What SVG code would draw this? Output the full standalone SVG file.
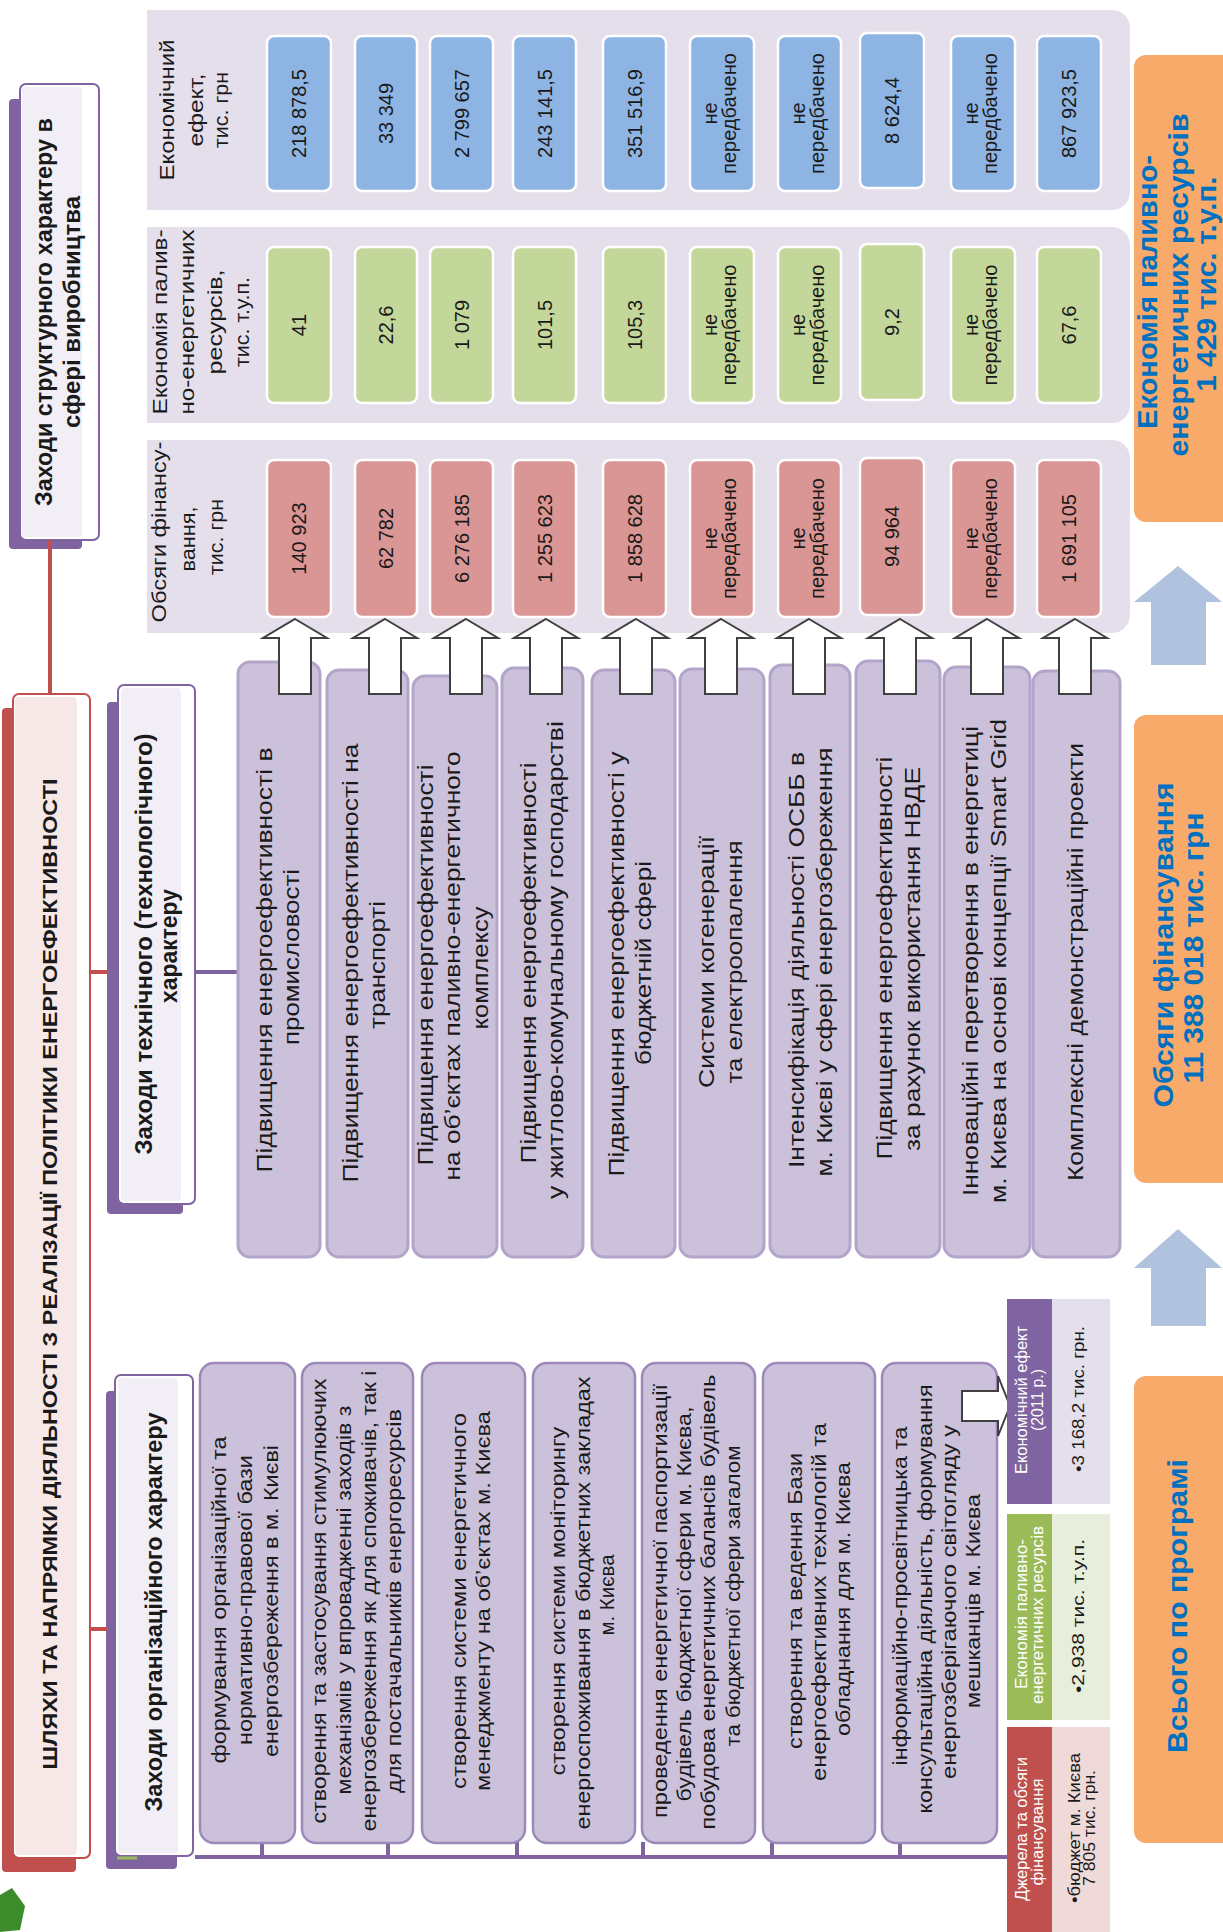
<svg xmlns="http://www.w3.org/2000/svg" xmlns:xlink="http://www.w3.org/1999/xlink" width="1223" height="1932" viewBox="0 0 1223 1932">
<style>
.t{font-family:"Liberation Sans",Arial,sans-serif;text-anchor:middle;fill:#1a1a1a}
.hd{font-size:23px;font-weight:bold}
.ti{font-size:21px;font-weight:bold}
.tc{font-size:22px}
.og{font-size:21px}
.lb{font-size:21px}
.nm{font-size:20px}
.bg{font-size:27px;font-weight:bold;fill:#0070c0}
.mh{font-size:16px;fill:#ffffff}
.mv{font-size:17px}
.panel{fill:#e5dfec}
.cb{fill:#8eb4e3;stroke:#ffffff;stroke-width:2.5}
.cg{fill:#c4d79b;stroke:#ffffff;stroke-width:2.5}
.cr{fill:#da9694;stroke:#ffffff;stroke-width:2.5}
.tb{fill:#ccc1da;stroke:#b3a4c9;stroke-width:3}
.ob{fill:#ccc1da;stroke:#9c88b9;stroke-width:2.5}
.orng{fill:#f8aa6b}
.wa{fill:#ffffff;stroke:#404040;stroke-width:2;stroke-linejoin:miter}
.ba{fill:#b0c2dd}
.pl{stroke:#8064a2;stroke-width:4;fill:none}
.rl{stroke:#c0504d;stroke-width:4;fill:none}
</style>
<defs>
<polygon id="wa" points="0,0 32,19 16,19 16,75 -16,75 -16,19 -32,19"/>
</defs>

<g id="title">
<rect x="2" y="708" width="74" height="1164" rx="4" fill="#c0504d"/>
<rect x="13" y="694" width="77" height="1164" rx="6" fill="#ffffff" stroke="#c0504d" stroke-width="2"/>
<rect x="15" y="697" width="62" height="1158" rx="4" fill="#f6e8e7"/>
<text class="t ti" x="57" y="1274" transform="rotate(-90 57 1274)" textLength="991" lengthAdjust="spacingAndGlyphs">ШЛЯХИ ТА НАПРЯМКИ ДІЯЛЬНОСТІ З РЕАЛІЗАЦІЇ ПОЛІТИКИ ЕНЕРГОЕФЕКТИВНОСТІ</text>
</g>

<g id="structural">
<rect x="9" y="99" width="73" height="450" rx="4" fill="#8064a2"/>
<rect x="20" y="84" width="79" height="456" rx="6" fill="#ffffff" stroke="#8064a2" stroke-width="2"/>
<rect x="22" y="87" width="60" height="450" rx="4" fill="#f1eff5"/>
<text class="t hd" x="52" y="312" transform="rotate(-90 52 312)" textLength="388" lengthAdjust="spacingAndGlyphs">Заходи структурного характеру в</text>
<text class="t hd" x="80" y="312" transform="rotate(-90 80 312)" textLength="232" lengthAdjust="spacingAndGlyphs">сфері виробництва</text>
</g>

<g id="technical">
<rect x="107" y="702" width="76" height="512" rx="4" fill="#8064a2"/>
<rect x="118" y="685" width="77" height="519" rx="6" fill="#ffffff" stroke="#8064a2" stroke-width="2"/>
<rect x="121" y="688" width="60" height="513" rx="4" fill="#f1eff5"/>
<text class="t hd" x="152" y="944" transform="rotate(-90 152 944)" textLength="421" lengthAdjust="spacingAndGlyphs">Заходи технічного (технологічного)</text>
<text class="t hd" x="177" y="946" transform="rotate(-90 177 946)" textLength="114" lengthAdjust="spacingAndGlyphs">характеру</text>
</g>

<g id="organizational">
<rect x="106" y="1391" width="71" height="478" rx="4" fill="#8064a2"/>
<rect x="115" y="1375" width="78" height="481" rx="6" fill="#ffffff" stroke="#8064a2" stroke-width="2"/>
<rect x="118" y="1378" width="60" height="475" rx="4" fill="#f1eff5"/>
<line x1="117" y1="1858" x2="137" y2="1858" stroke="#9bbb59" stroke-width="3"/>
<text class="t hd" x="162" y="1612" transform="rotate(-90 162 1612)" textLength="399" lengthAdjust="spacingAndGlyphs">Заходи організаційного характеру</text>
</g>

<g id="connectors">
<line class="rl" x1="50" y1="540" x2="50" y2="694"/>
<line class="rl" x1="90" y1="972" x2="108" y2="972"/>
<line class="rl" x1="90" y1="1629" x2="107" y2="1629"/>
<line class="pl" x1="195" y1="972" x2="239" y2="972"/>
<line class="pl" x1="195" y1="1857" x2="1007" y2="1857"/>
<line class="pl" x1="262" y1="1842" x2="262" y2="1857"/>
<line class="pl" x1="388" y1="1842" x2="388" y2="1857"/>
<line class="pl" x1="517" y1="1842" x2="517" y2="1857"/>
<line class="pl" x1="643" y1="1842" x2="643" y2="1857"/>
<line class="pl" x1="772" y1="1842" x2="772" y2="1857"/>
<line class="pl" x1="900" y1="1842" x2="900" y2="1857"/>
</g>

<g id="panels">
<path class="panel" d="M147,10 H1112 A18,18 0 0 1 1130,28 V192 A18,18 0 0 1 1112,210 H147 Z"/>
<path class="panel" d="M147,227 H1112 A18,18 0 0 1 1130,245 V405 A18,18 0 0 1 1112,423 H147 Z"/>
<path class="panel" d="M147,440 H1112 A18,18 0 0 1 1130,458 V615 A18,18 0 0 1 1112,633 H147 Z"/>
<text class="t lb" x="174" y="110" transform="rotate(-90 174 110)" textLength="141" lengthAdjust="spacingAndGlyphs">Економічний</text>
<text class="t lb" x="203" y="110" transform="rotate(-90 203 110)" textLength="73" lengthAdjust="spacingAndGlyphs">ефект,</text>
<text class="t lb" x="228" y="110" transform="rotate(-90 228 110)" textLength="76" lengthAdjust="spacingAndGlyphs">тис. грн</text>
<text class="t lb" x="167" y="322" transform="rotate(-90 167 322)" textLength="185" lengthAdjust="spacingAndGlyphs">Економія палив-</text>
<text class="t lb" x="194" y="322" transform="rotate(-90 194 322)" textLength="185" lengthAdjust="spacingAndGlyphs">но-енергетичних</text>
<text class="t lb" x="222" y="322" transform="rotate(-90 222 322)" textLength="105" lengthAdjust="spacingAndGlyphs">ресурсів,</text>
<text class="t lb" x="249" y="322" transform="rotate(-90 249 322)" textLength="90" lengthAdjust="spacingAndGlyphs">тис. т.у.п.</text>
<text class="t lb" x="166" y="532" transform="rotate(-90 166 532)" textLength="181" lengthAdjust="spacingAndGlyphs">Обсяги фінансу-</text>
<text class="t lb" x="195" y="539" transform="rotate(-90 195 539)" textLength="65" lengthAdjust="spacingAndGlyphs">вання,</text>
<text class="t lb" x="223" y="537" transform="rotate(-90 223 537)" textLength="76" lengthAdjust="spacingAndGlyphs">тис. грн</text>
</g>

<g id="cells-effect">
<rect class="cb" x="267" y="36" width="64" height="155" rx="7"/>
<rect class="cb" x="355" y="36" width="62" height="155" rx="7"/>
<rect class="cb" x="430" y="36" width="63" height="155" rx="7"/>
<rect class="cb" x="513" y="36" width="63" height="155" rx="7"/>
<rect class="cb" x="603" y="36" width="63" height="155" rx="7"/>
<rect class="cb" x="690" y="36" width="64" height="155" rx="7"/>
<rect class="cb" x="778" y="36" width="63" height="155" rx="7"/>
<rect class="cb" x="860" y="33" width="64" height="155" rx="7"/>
<rect class="cb" x="951" y="36" width="64" height="155" rx="7"/>
<rect class="cb" x="1037" y="36" width="64" height="155" rx="7"/>
<text class="t nm" x="306" y="113.5" transform="rotate(-90 306 113.5)">218 878,5</text>
<text class="t nm" x="393" y="113.5" transform="rotate(-90 393 113.5)">33 349</text>
<text class="t nm" x="468.5" y="113.5" transform="rotate(-90 468.5 113.5)">2 799 657</text>
<text class="t nm" x="551.5" y="113.5" transform="rotate(-90 551.5 113.5)">243 141,5</text>
<text class="t nm" x="641.5" y="113.5" transform="rotate(-90 641.5 113.5)">351 516,9</text>
<text class="t nm" x="717" y="113.5" transform="rotate(-90 717 113.5)">не</text>
<text class="t nm" x="736" y="113.5" transform="rotate(-90 736 113.5)">передбачено</text>
<text class="t nm" x="804.5" y="113.5" transform="rotate(-90 804.5 113.5)">не</text>
<text class="t nm" x="823.5" y="113.5" transform="rotate(-90 823.5 113.5)">передбачено</text>
<text class="t nm" x="899" y="110.5" transform="rotate(-90 899 110.5)">8 624,4</text>
<text class="t nm" x="978" y="113.5" transform="rotate(-90 978 113.5)">не</text>
<text class="t nm" x="997" y="113.5" transform="rotate(-90 997 113.5)">передбачено</text>
<text class="t nm" x="1076" y="113.5" transform="rotate(-90 1076 113.5)">867 923,5</text>
</g>

<g id="cells-savings">
<rect class="cg" x="267" y="247" width="64" height="156" rx="7"/>
<rect class="cg" x="355" y="247" width="62" height="156" rx="7"/>
<rect class="cg" x="430" y="247" width="63" height="156" rx="7"/>
<rect class="cg" x="513" y="247" width="63" height="156" rx="7"/>
<rect class="cg" x="603" y="247" width="63" height="156" rx="7"/>
<rect class="cg" x="690" y="247" width="64" height="156" rx="7"/>
<rect class="cg" x="778" y="247" width="63" height="156" rx="7"/>
<rect class="cg" x="860" y="244" width="64" height="156" rx="7"/>
<rect class="cg" x="951" y="247" width="64" height="156" rx="7"/>
<rect class="cg" x="1037" y="247" width="64" height="156" rx="7"/>
<text class="t nm" x="306" y="325" transform="rotate(-90 306 325)">41</text>
<text class="t nm" x="393" y="325" transform="rotate(-90 393 325)">22,6</text>
<text class="t nm" x="468.5" y="325" transform="rotate(-90 468.5 325)">1 079</text>
<text class="t nm" x="551.5" y="325" transform="rotate(-90 551.5 325)">101,5</text>
<text class="t nm" x="641.5" y="325" transform="rotate(-90 641.5 325)">105,3</text>
<text class="t nm" x="717" y="325" transform="rotate(-90 717 325)">не</text>
<text class="t nm" x="736" y="325" transform="rotate(-90 736 325)">передбачено</text>
<text class="t nm" x="804.5" y="325" transform="rotate(-90 804.5 325)">не</text>
<text class="t nm" x="823.5" y="325" transform="rotate(-90 823.5 325)">передбачено</text>
<text class="t nm" x="899" y="322" transform="rotate(-90 899 322)">9,2</text>
<text class="t nm" x="978" y="325" transform="rotate(-90 978 325)">не</text>
<text class="t nm" x="997" y="325" transform="rotate(-90 997 325)">передбачено</text>
<text class="t nm" x="1076" y="325" transform="rotate(-90 1076 325)">67,6</text>
</g>

<g id="cells-funding">
<rect class="cr" x="267" y="460" width="64" height="157" rx="7"/>
<rect class="cr" x="355" y="460" width="62" height="157" rx="7"/>
<rect class="cr" x="430" y="460" width="63" height="157" rx="7"/>
<rect class="cr" x="513" y="460" width="63" height="157" rx="7"/>
<rect class="cr" x="603" y="460" width="63" height="157" rx="7"/>
<rect class="cr" x="690" y="460" width="64" height="157" rx="7"/>
<rect class="cr" x="778" y="460" width="63" height="157" rx="7"/>
<rect class="cr" x="860" y="458" width="64" height="157" rx="7"/>
<rect class="cr" x="951" y="460" width="64" height="157" rx="7"/>
<rect class="cr" x="1037" y="460" width="64" height="157" rx="7"/>
<text class="t nm" x="306" y="538.5" transform="rotate(-90 306 538.5)">140 923</text>
<text class="t nm" x="393" y="538.5" transform="rotate(-90 393 538.5)">62 782</text>
<text class="t nm" x="468.5" y="538.5" transform="rotate(-90 468.5 538.5)">6 276 185</text>
<text class="t nm" x="551.5" y="538.5" transform="rotate(-90 551.5 538.5)">1 255 623</text>
<text class="t nm" x="641.5" y="538.5" transform="rotate(-90 641.5 538.5)">1 858 628</text>
<text class="t nm" x="717" y="538.5" transform="rotate(-90 717 538.5)">не</text>
<text class="t nm" x="736" y="538.5" transform="rotate(-90 736 538.5)">передбачено</text>
<text class="t nm" x="804.5" y="538.5" transform="rotate(-90 804.5 538.5)">не</text>
<text class="t nm" x="823.5" y="538.5" transform="rotate(-90 823.5 538.5)">передбачено</text>
<text class="t nm" x="899" y="536.5" transform="rotate(-90 899 536.5)">94 964</text>
<text class="t nm" x="978" y="538.5" transform="rotate(-90 978 538.5)">не</text>
<text class="t nm" x="997" y="538.5" transform="rotate(-90 997 538.5)">передбачено</text>
<text class="t nm" x="1076" y="538.5" transform="rotate(-90 1076 538.5)">1 691 105</text>
</g>

<g id="tech-1"><rect class="tb" x="238" y="662" width="82" height="595" rx="12"/>
<text class="t tc" x="272" y="960" transform="rotate(-90 272 960)" textLength="425" lengthAdjust="spacingAndGlyphs">Підвищення енергоефективності в</text>
<text class="t tc" x="299" y="957" transform="rotate(-90 299 957)" textLength="176" lengthAdjust="spacingAndGlyphs">промисловості</text></g>
<g id="tech-2"><rect class="tb" x="327" y="670" width="81" height="587" rx="12"/>
<text class="t tc" x="358" y="963" transform="rotate(-90 358 963)" textLength="439" lengthAdjust="spacingAndGlyphs">Підвищення енергоефективності на</text>
<text class="t tc" x="385" y="965" transform="rotate(-90 385 965)" textLength="128" lengthAdjust="spacingAndGlyphs">транспорті</text></g>
<g id="tech-3"><rect class="tb" x="413" y="676" width="84" height="581" rx="12"/>
<text class="t tc" x="433" y="965" transform="rotate(-90 433 965)" textLength="401" lengthAdjust="spacingAndGlyphs">Підвищення енергоефективності</text>
<text class="t tc" x="460" y="966" transform="rotate(-90 460 966)" textLength="429" lengthAdjust="spacingAndGlyphs">на об’єктах  паливно-енергетичного</text>
<text class="t tc" x="488" y="968" transform="rotate(-90 488 968)" textLength="123" lengthAdjust="spacingAndGlyphs">комплексу</text></g>
<g id="tech-4"><rect class="tb" x="502" y="668" width="81" height="589" rx="12"/>
<text class="t tc" x="536" y="963" transform="rotate(-90 536 963)" textLength="401" lengthAdjust="spacingAndGlyphs">Підвищення енергоефективності</text>
<text class="t tc" x="563" y="960" transform="rotate(-90 563 960)" textLength="478" lengthAdjust="spacingAndGlyphs">у житлово-комунальному  господарстві</text></g>
<g id="tech-5"><rect class="tb" x="592" y="670" width="83" height="587" rx="12"/>
<text class="t tc" x="624" y="964" transform="rotate(-90 624 964)" textLength="425" lengthAdjust="spacingAndGlyphs">Підвищення енергоефективності у</text>
<text class="t tc" x="651" y="963" transform="rotate(-90 651 963)" textLength="204" lengthAdjust="spacingAndGlyphs">бюджетній сфері</text></g>
<g id="tech-6"><rect class="tb" x="680" y="669" width="84" height="588" rx="12"/>
<text class="t tc" x="714" y="962" transform="rotate(-90 714 962)" textLength="252" lengthAdjust="spacingAndGlyphs">Системи когенерації</text>
<text class="t tc" x="742" y="962" transform="rotate(-90 742 962)" textLength="243" lengthAdjust="spacingAndGlyphs">та електроопалення</text></g>
<g id="tech-7"><rect class="tb" x="770" y="665" width="80" height="592" rx="12"/>
<text class="t tc" x="804" y="960" transform="rotate(-90 804 960)" textLength="416" lengthAdjust="spacingAndGlyphs">Інтенсифікація діяльності ОСББ в</text>
<text class="t tc" x="832" y="962" transform="rotate(-90 832 962)" textLength="429" lengthAdjust="spacingAndGlyphs">м. Києві у сфері енергозбереження</text></g>
<g id="tech-8"><rect class="tb" x="856" y="661" width="84" height="596" rx="12"/>
<text class="t tc" x="892" y="958" transform="rotate(-90 892 958)" textLength="403" lengthAdjust="spacingAndGlyphs">Підвищення енергоефективності</text>
<text class="t tc" x="920" y="959" transform="rotate(-90 920 959)" textLength="384" lengthAdjust="spacingAndGlyphs">за рахунок використання НВДЕ</text></g>
<g id="tech-9"><rect class="tb" x="944" y="667" width="86" height="590" rx="12"/>
<text class="t tc" x="978" y="961" transform="rotate(-90 978 961)" textLength="470" lengthAdjust="spacingAndGlyphs">Інноваційні перетворення в енергетиці</text>
<text class="t tc" x="1006" y="961" transform="rotate(-90 1006 961)" textLength="484" lengthAdjust="spacingAndGlyphs">м. Києва на основі концепції Smart Grid</text></g>
<g id="tech-10"><rect class="tb" x="1033" y="671" width="87" height="586" rx="12"/>
<text class="t tc" x="1083" y="962" transform="rotate(-90 1083 962)" textLength="438" lengthAdjust="spacingAndGlyphs">Комплексні демонстраційні проекти</text></g>

<g id="up-arrows">
<use href="#wa" class="wa" x="295" y="619"/>
<use href="#wa" class="wa" x="385" y="619"/>
<use href="#wa" class="wa" x="466" y="619"/>
<use href="#wa" class="wa" x="546" y="619"/>
<use href="#wa" class="wa" x="636" y="619"/>
<use href="#wa" class="wa" x="721" y="619"/>
<use href="#wa" class="wa" x="809" y="619"/>
<use href="#wa" class="wa" x="900" y="619"/>
<use href="#wa" class="wa" x="987" y="619"/>
<use href="#wa" class="wa" x="1075" y="619"/>
</g>

<g id="org-1"><rect class="ob" x="200" y="1363" width="95" height="480" rx="14"/>
<text class="t og" x="226" y="1600" transform="rotate(-90 226 1600)" textLength="327" lengthAdjust="spacingAndGlyphs">формування організаційної та</text>
<text class="t og" x="252" y="1600" transform="rotate(-90 252 1600)" textLength="290" lengthAdjust="spacingAndGlyphs">нормативно-правової бази</text>
<text class="t og" x="278" y="1601" transform="rotate(-90 278 1601)" textLength="312" lengthAdjust="spacingAndGlyphs">енергозбереження в м. Києві</text></g>
<g id="org-2"><rect class="ob" x="302" y="1363" width="111" height="480" rx="14"/>
<text class="t og" x="326" y="1601" transform="rotate(-90 326 1601)" textLength="445" lengthAdjust="spacingAndGlyphs">створення та застосування стимулюючих</text>
<text class="t og" x="351" y="1600" transform="rotate(-90 351 1600)" textLength="389" lengthAdjust="spacingAndGlyphs">механізмів у впровадженні заходів з</text>
<text class="t og" x="376" y="1601" transform="rotate(-90 376 1601)" textLength="461" lengthAdjust="spacingAndGlyphs">енергозбереження як для споживачів, так і</text>
<text class="t og" x="401" y="1601" transform="rotate(-90 401 1601)" textLength="384" lengthAdjust="spacingAndGlyphs">для постачальників енергоресурсів</text></g>
<g id="org-3"><rect class="ob" x="422" y="1363" width="103" height="480" rx="14"/>
<text class="t og" x="466" y="1601" transform="rotate(-90 466 1601)" textLength="376" lengthAdjust="spacingAndGlyphs">створення системи енергетичного</text>
<text class="t og" x="490" y="1601" transform="rotate(-90 490 1601)" textLength="380" lengthAdjust="spacingAndGlyphs">менеджменту на об’єктах м. Києва</text></g>
<g id="org-4"><rect class="ob" x="533" y="1363" width="102" height="480" rx="14"/>
<text class="t og" x="565" y="1601" transform="rotate(-90 565 1601)" textLength="349" lengthAdjust="spacingAndGlyphs">створення системи моніторингу</text>
<text class="t og" x="590" y="1603" transform="rotate(-90 590 1603)" textLength="453" lengthAdjust="spacingAndGlyphs">енергоспоживання в бюджетних закладах</text>
<text class="t og" x="614" y="1595" transform="rotate(-90 614 1595)" textLength="81" lengthAdjust="spacingAndGlyphs">м. Києва</text></g>
<g id="org-5"><rect class="ob" x="642" y="1363" width="113" height="480" rx="14"/>
<text class="t og" x="667" y="1601" transform="rotate(-90 667 1601)" textLength="434" lengthAdjust="spacingAndGlyphs">проведення енергетичної паспортизації</text>
<text class="t og" x="691" y="1604" transform="rotate(-90 691 1604)" textLength="395" lengthAdjust="spacingAndGlyphs">будівель бюджетної сфери м. Києва,</text>
<text class="t og" x="715" y="1602" transform="rotate(-90 715 1602)" textLength="455" lengthAdjust="spacingAndGlyphs">побудова енергетичних балансів будівель</text>
<text class="t og" x="740" y="1596" transform="rotate(-90 740 1596)" textLength="301" lengthAdjust="spacingAndGlyphs">та бюджетної сфери загалом</text></g>
<g id="org-6"><rect class="ob" x="763" y="1363" width="112" height="480" rx="14"/>
<text class="t og" x="802" y="1601" transform="rotate(-90 802 1601)" textLength="296" lengthAdjust="spacingAndGlyphs">створення та ведення Бази</text>
<text class="t og" x="826" y="1602" transform="rotate(-90 826 1602)" textLength="358" lengthAdjust="spacingAndGlyphs">енергоефективних технологій та</text>
<text class="t og" x="850" y="1599" transform="rotate(-90 850 1599)" textLength="274" lengthAdjust="spacingAndGlyphs">обладнання для м. Києва</text></g>
<g id="org-7"><rect class="ob" x="882" y="1363" width="115" height="480" rx="14"/>
<text class="t og" x="907" y="1596" transform="rotate(-90 907 1596)" textLength="339" lengthAdjust="spacingAndGlyphs">інформаційно-просвітницька та</text>
<text class="t og" x="932" y="1599" transform="rotate(-90 932 1599)" textLength="429" lengthAdjust="spacingAndGlyphs">консультаційна діяльність, формування</text>
<text class="t og" x="956" y="1602" transform="rotate(-90 956 1602)" textLength="354" lengthAdjust="spacingAndGlyphs">енергозберігаючого світогляду у</text>
<text class="t og" x="980" y="1601" transform="rotate(-90 980 1601)" textLength="214" lengthAdjust="spacingAndGlyphs">мешканців м. Києва</text></g>

<g id="right-arrow">
<polygon class="wa" points="962,1391 998,1391 998,1376 1010,1406 998,1436 998,1421 962,1421"/>
</g>

<g id="summary-effect">
<rect x="1007" y="1299" width="45" height="205" fill="#8064a2"/>
<rect x="1052" y="1299" width="58" height="205" fill="#e4dfec"/>
<text class="t mh" x="1027" y="1400" transform="rotate(-90 1027 1400)" textLength="148" lengthAdjust="spacingAndGlyphs">Економічний ефект</text>
<text class="t mh" x="1043" y="1400" transform="rotate(-90 1043 1400)" textLength="62" lengthAdjust="spacingAndGlyphs">(2011 р.)</text>
<text class="t mv" x="1084" y="1399" transform="rotate(-90 1084 1399)" textLength="146" lengthAdjust="spacingAndGlyphs">•3 168,2 тис. грн.</text>
</g>
<g id="summary-savings">
<rect x="1007" y="1514" width="45" height="206" fill="#9bbb59"/>
<rect x="1052" y="1514" width="58" height="206" fill="#e8eedc"/>
<text class="t mh" x="1027" y="1614" transform="rotate(-90 1027 1614)" textLength="150" lengthAdjust="spacingAndGlyphs">Економія паливно-</text>
<text class="t mh" x="1043" y="1615" transform="rotate(-90 1043 1615)" textLength="178" lengthAdjust="spacingAndGlyphs">енергетичних ресурсів</text>
<text class="t mv" x="1084" y="1616" transform="rotate(-90 1084 1616)" textLength="154" lengthAdjust="spacingAndGlyphs">•2,938 тис. т.у.п.</text>
</g>
<g id="summary-funding">
<rect x="1007" y="1727" width="45" height="205" fill="#c0504d"/>
<rect x="1052" y="1727" width="58" height="205" fill="#efdad9"/>
<text class="t mh" x="1027" y="1829" transform="rotate(-90 1027 1829)" textLength="144" lengthAdjust="spacingAndGlyphs">Джерела та обсяги</text>
<text class="t mh" x="1043" y="1832" transform="rotate(-90 1043 1832)" textLength="107" lengthAdjust="spacingAndGlyphs">фінансування</text>
<text class="t mv" x="1080" y="1828" transform="rotate(-90 1080 1828)" textLength="150" lengthAdjust="spacingAndGlyphs">•бюджет м. Києва</text>
<text class="t mv" x="1095" y="1828" transform="rotate(-90 1095 1828)" textLength="116" lengthAdjust="spacingAndGlyphs">7 805 тис. грн.</text>
</g>

<g id="total-savings">
<rect class="orng" x="1134" y="55" width="100" height="467" rx="12"/>
<text class="t bg" x="1157" y="292" transform="rotate(-90 1157 292)" textLength="274" lengthAdjust="spacingAndGlyphs">Економія паливно-</text>
<text class="t bg" x="1188" y="285" transform="rotate(-90 1188 285)" textLength="343" lengthAdjust="spacingAndGlyphs">енергетичних ресурсів</text>
<text class="t bg" x="1216" y="284" transform="rotate(-90 1216 284)" textLength="215" lengthAdjust="spacingAndGlyphs">1 429 тис. т.у.п.</text>
</g>
<g id="total-funding">
<rect class="orng" x="1134" y="715" width="100" height="468" rx="12"/>
<text class="t bg" x="1173" y="945" transform="rotate(-90 1173 945)" textLength="325" lengthAdjust="spacingAndGlyphs">Обсяги фінансування</text>
<text class="t bg" x="1203" y="948" transform="rotate(-90 1203 948)" textLength="271" lengthAdjust="spacingAndGlyphs">11 388 018 тис. грн</text>
</g>
<g id="total-program">
<rect class="orng" x="1134" y="1376" width="100" height="467" rx="12"/>
<text class="t bg" x="1187" y="1606" transform="rotate(-90 1187 1606)" textLength="294" lengthAdjust="spacingAndGlyphs">Всього по програмі</text>
</g>

<g id="big-arrows">
<polygon class="ba" points="1178,566 1222,602 1206,602 1206,665 1151,665 1151,602 1134,602"/>
<polygon class="ba" points="1178,1229 1222,1268 1206,1268 1206,1326 1151,1326 1151,1268 1134,1268"/>
</g>

<g id="decor">
<polygon points="0,1895 12,1888 25,1906 20,1930 0,1932" fill="#3c8c2c"/>
</g>
</svg>
